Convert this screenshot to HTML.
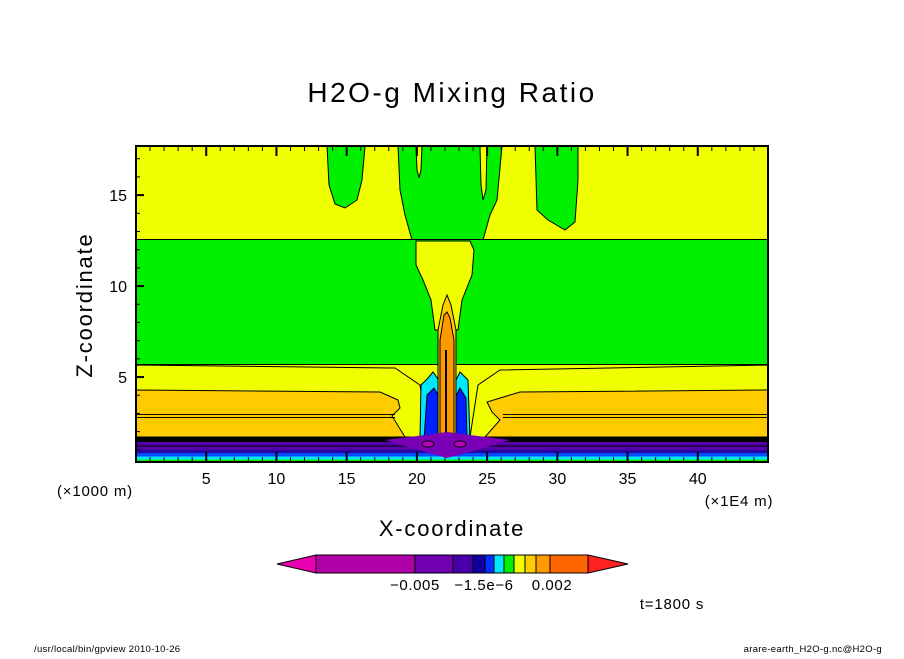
<!DOCTYPE html>
<html><head><meta charset="utf-8"><style>
body{margin:0;background:#fff;}
svg text{font-family:"Liberation Sans",sans-serif;}
</style></head><body>
<svg id="chart" width="904" height="654" viewBox="0 0 904 654" xmlns="http://www.w3.org/2000/svg">
<text x="452" y="102" text-anchor="middle" font-size="28" letter-spacing="2.5">H2O-g Mixing Ratio</text>
<g id="field">
<rect x="136" y="146" width="632" height="316" fill="#f0ff00"/>
<path d="M327 146 L329 185 L335 204 L345 208 L357 200 L362 180 L365 146 Z" fill="#00f000" stroke="#000" stroke-width="1"/>
<path d="M535 146 L537 210 L548 220 L565 230 L575 222 L578 180 L578 146 Z" fill="#00f000" stroke="#000" stroke-width="1"/>
<path d="M398 146 L400 190 L405 215 L412 240 L483 240 L490 215 L497 200 L502 146 Z" fill="#00f000" stroke="#000" stroke-width="1"/>
<path d="M416 146 L417 170 L419 178 L421 170 L422 146 Z" fill="#f0ff00" stroke="#000" stroke-width="1"/>
<path d="M480 146 L481 185 L483 200 L486 190 L487 146 Z" fill="#f0ff00" stroke="#000" stroke-width="1"/>
<rect x="136" y="239.5" width="632" height="125" fill="#00f000" stroke="#000" stroke-width="1"/>
<path d="M416 241 L470 241 L474 250 L472 275 L462 300 L458 330 L435 330 L431 300 L423 280 L416 265 Z" fill="#f0ff00" stroke="#000" stroke-width="1"/>
<path d="M136 365 L395 368 L420 385 L428 437 L470 437 L478 385 L500 370 L768 365 L768 437 L136 437 Z" fill="#f0ff00" stroke="#000" stroke-width="1"/>
<path d="M136 390 L380 392 L398 400 L400 408 L392 416 L405 437 L136 437 Z" fill="#ffcc00" stroke="#000" stroke-width="1"/>
<path d="M768 390 L520 392 L487 402 L492 412 L500 420 L485 437 L768 437 Z" fill="#ffcc00" stroke="#000" stroke-width="1"/>
<line x1="136" y1="414.5" x2="395" y2="414.5" stroke="#000"/>
<line x1="136" y1="417.5" x2="395" y2="417.5" stroke="#000"/>
<line x1="503" y1="414.5" x2="768" y2="414.5" stroke="#000"/>
<line x1="503" y1="417.5" x2="768" y2="417.5" stroke="#000"/>
<path d="M420 440 L421 385 L428 378 L433 372 L440 382 L455 382 L460 372 L468 380 L470 440 Z" fill="#00e8ff" stroke="#000" stroke-width="1"/>
<path d="M424 440 L427 395 L434 388 L440 398 L455 398 L460 388 L466 398 L467 440 Z" fill="#0020ff" stroke="#000" stroke-width="1"/>
<path d="M438 440 L438 330 L443 305 L447 295 L451 305 L456 330 L456 440 Z" fill="#ffcc00" stroke="#000" stroke-width="1"/>
<path d="M440 440 L440 340 L444 315 L447 312 L450 318 L454 340 L454 440 Z" fill="#ff9900" stroke="#000" stroke-width="1"/>
<line x1="446" y1="350" x2="446" y2="440" stroke="#000" stroke-width="2"/>
<rect x="136" y="437" width="632" height="5" fill="#000"/>
<rect x="136" y="442" width="632" height="10" fill="#5500aa"/>
<line x1="136" y1="446" x2="768" y2="446" stroke="#000"/>
<rect x="136" y="450" width="632" height="3" fill="#2800a0"/>
<rect x="136" y="453" width="632" height="3.5" fill="#0050ff"/>
<rect x="136" y="456.5" width="632" height="3" fill="#00e8ff"/>
<rect x="136" y="459.5" width="632" height="3" fill="#00f000"/>
<path d="M385 440 L425 435 L447 432 L470 435 L510 440 L470 452 L447 458 L425 452 Z" fill="#7a00b8"/>
<ellipse cx="428" cy="444" rx="6" ry="3" fill="#c000c0" stroke="#000"/>
<ellipse cx="460" cy="444" rx="6" ry="3" fill="#c000c0" stroke="#000"/>
</g>
<rect x="136" y="146" width="632" height="316" fill="none" stroke="#000" stroke-width="2"/>
<g id="axes"></g>
<text x="92" y="305" transform="rotate(-90 92 305)" text-anchor="middle" font-size="22" letter-spacing="1.8">Z-coordinate</text>
<text x="452" y="536" text-anchor="middle" font-size="22" letter-spacing="1.8">X-coordinate</text>
<text x="95" y="496" text-anchor="middle" font-size="15" letter-spacing="0.8">(×1000 m)</text>
<text x="739" y="506" text-anchor="middle" font-size="15" letter-spacing="0.8">(×1E4 m)</text>
<g id="colorbar"></g>
<text x="415" y="590" text-anchor="middle" font-size="15" letter-spacing="0.6">−0.005</text>
<text x="484" y="590" text-anchor="middle" font-size="15" letter-spacing="0.6">−1.5e−6</text>
<text x="552" y="590" text-anchor="middle" font-size="15" letter-spacing="0.6">0.002</text>
<text x="672" y="609" text-anchor="middle" font-size="15" letter-spacing="0.8">t=1800 s</text>
<text x="34" y="652" font-size="9.5" letter-spacing="0.3">/usr/local/bin/gpview  2010-10-26</text>
<text x="882" y="652" text-anchor="end" font-size="9.5" letter-spacing="0.3">arare-earth_H2O-g.nc@H2O-g</text>
</svg>
<script>
const xTicks=[5,10,15,20,25,30,35,40];
const yTicks=[5,10,15];
const xDomain=[0,45];
const yDomain=[0.33,17.7];
const cbColors=["#b000a8","#7000b0","#4800a8","#1000a0","#0030ff","#00e8ff","#00f000","#f0ff00","#ffcc00","#ff9900","#ff6600"];
const cbEdges=[316,415,453,473,485,494,504,514,525,536,550,588];
const NS="http://www.w3.org/2000/svg";
const X=v=>136+(v-xDomain[0])/(xDomain[1]-xDomain[0])*632;
const Y=v=>462-(v-yDomain[0])/(yDomain[1]-yDomain[0])*316;
function mk(t,a,p){const e=document.createElementNS(NS,t);for(const k in a)e.setAttribute(k,a[k]);p.appendChild(e);return e;}
const ax=document.getElementById('axes');
for(let v=1;v<45;v++){const x=X(v);const maj=v%5===0;
 const l1=mk('line',{x1:x,x2:x,y1:462,y2:maj?452:457,stroke:'#000','stroke-width':maj?2:1},ax);
 
 
 const l2=mk('line',{x1:x,x2:x,y1:146,y2:maj?156:151,stroke:'#000','stroke-width':maj?2:1},ax);
 
 }
for(let v=1;v<=17;v++){const y=Y(v);const maj=v%5===0;
 const l=mk('line',{x1:136,x2:maj?144:140,y1:y,y2:y,stroke:'#000','stroke-width':maj?2:1},ax);
 
 }
xTicks.forEach(v=>{const t=mk('text',{x:X(v),y:484,'text-anchor':'middle','font-size':16},ax);t.textContent=v;
 
 });
yTicks.forEach(v=>{const t=mk('text',{x:127,y:Y(v)+6,'text-anchor':'end','font-size':16},ax);t.textContent=v;
 
 });
const cb=document.getElementById('colorbar');
const la=mk('polygon',{points:'277,564 316,555 316,573',fill:'#e800b0',stroke:'#000'},cb);


const ra=mk('polygon',{points:'628,564 588,555 588,573',fill:'#ff2020',stroke:'#000'},cb);


cbColors.forEach((c,i)=>{const r=mk('rect',{x:cbEdges[i],y:555,width:cbEdges[i+1]-cbEdges[i],height:18,fill:c,stroke:'#000','stroke-width':1},cb);
 
 });
</script>
</body></html>
